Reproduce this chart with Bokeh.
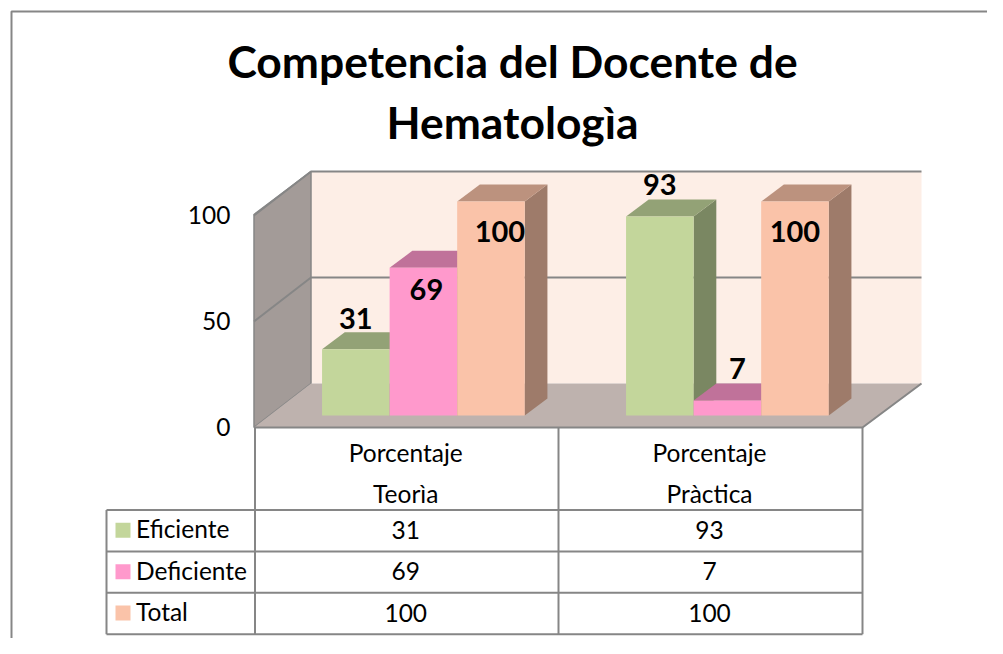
from bokeh.plotting import figure
from bokeh.models import Range1d
from bokeh.core.properties import value
from bokeh.embed import file_html
from bokeh.resources import INLINE

title_lines = ["Competencia del Docente de", "Hematologìa"]
categories = [["Porcentaje", "Teorìa"], ["Porcentaje", "Pràctica"]]
series = ["Eficiente", "Deficiente", "Total"]
eficiente = [31, 93]
deficiente = [69, 7]
total = [100, 100]
y_ticks = [0, 50, 100]

front = ["#C3D69B", "#FF99CC", "#FAC3A9"]
top_c = ["#93A276", "#C0729A", "#BC927E"]
side = ["#7A8762", "#A05F80", "#9E7B6A"]
GRAY = "#868686"
FONT = value("Lato")

W, H = 987, 638
BASE, SC = 415.0, 2.14


def Y(py):
    return (BASE - py) / SC


p = figure(width=W, height=H, output_backend="svg", toolbar_location=None,
           x_range=Range1d(0, W), y_range=Range1d(Y(H), Y(0)),
           min_border=0, outline_line_color=None, border_fill_color="white",
           background_fill_color="white")
p.axis.visible = False
p.grid.visible = False

# page border
p.line([11, 11, W], [Y(H), Y(11), Y(11)], line_color=GRAY, line_width=2)

# 3D box
p.patch([310.5, 921, 921, 310.5], [Y(171), Y(171), Y(383), Y(383)], fill_color="#FDEEE6", line_color=None)
p.patch([253.5, 310.5, 310.5, 253.5], [Y(214), Y(171), Y(383), Y(427)], fill_color="#A39B98", line_color=GRAY, line_width=1.5)
p.patch([253.5, 310.5, 921, 862], [Y(427), Y(383), Y(383), Y(427)], fill_color="#BEB2AE", line_color=None)
wall_scale = 2.12
for t in y_ticks[1:]:
    yb = 383 - t * wall_scale
    yf = 427 - t * wall_scale
    p.line([253.5, 310.5, 921], [Y(yf), Y(yb), Y(yb)], line_color=GRAY, line_width=2)
p.line([253.5, 862, 921], [Y(427), Y(427), Y(383)], line_color=GRAY, line_width=2)

# bars
LEFT = 254
CAT_W = 304.0
BW = CAT_W / 4.5
DX, DYV = 22.7, 17 / SC
xs, ys, cols = [], [], []
data = [eficiente, deficiente, total]
for g in range(2):
    for s, vals in enumerate(data):
        v = vals[g]
        x0 = LEFT + g * CAT_W + BW + s * BW
        x1 = x0 + BW
        xs += [[x1, x1 + DX, x1 + DX, x1], [x0, x0 + DX, x1 + DX, x1], [x0, x1, x1, x0]]
        ys += [[0, DYV, v + DYV, v], [v, v + DYV, v + DYV, v], [0, 0, v, v]]
        cols += [side[s], top_c[s], front[s]]
p.patches(xs, ys, fill_color=cols, line_color=None)

# bar labels
lab_dx = [[0, 3, 9], [0, 10, 0]]
lab_dy = [[31, -22, -30], [32, 32, -30]]
lx, ly, lt = [], [], []
for g in range(2):
    for s, vals in enumerate(data):
        lx.append(LEFT + g * CAT_W + BW * (s + 1.5) + lab_dx[g][s])
        ly.append(vals[g] + lab_dy[g][s] / SC)
        lt.append(str(vals[g]))
p.text(lx, ly, lt, text_font=FONT, text_font_style="bold", text_font_size="29px",
       text_align="center", text_baseline="middle", text_color="black")

# title
p.text([512, 512], [Y(60), Y(120.5)], title_lines, text_font=FONT, text_font_style="bold",
       text_font_size="44.4px", text_align="center", text_baseline="middle", text_color="black")

# axis tick labels
p.text([230] * 3, [Y(426 - t * wall_scale) for t in y_ticks], [str(t) for t in y_ticks],
       text_font=FONT, text_font_size="24.5px", text_align="right", text_baseline="middle", text_color="black")

# data table
rows = [427, 509.5, 551, 592.3, 633.7]
X_T = [106, 254.5, 558, 862]
for r in rows[1:]:
    p.line([X_T[0], X_T[3]], [Y(r), Y(r)], line_color=GRAY, line_width=2)
p.line([X_T[0], X_T[0]], [Y(rows[1]), Y(rows[4])], line_color=GRAY, line_width=2)
for x in X_T[1:]:
    p.line([x, x], [Y(rows[0]), Y(rows[4])], line_color=GRAY, line_width=2)

cat_x = [(X_T[1] + X_T[2]) / 2 - 1, (X_T[2] + X_T[3]) / 2 - 1]
for i, c in enumerate(categories):
    p.text([cat_x[i]] * 2, [Y(451.5), Y(492.5)], c, text_font=FONT, text_font_size="24.5px",
           text_align="center", text_baseline="middle", text_color="black")
for r, (name, vals) in enumerate(zip(series, data)):
    yc = (rows[r + 1] + rows[r + 2]) / 2
    p.quad(left=115, right=130, top=Y(yc - 8), bottom=Y(yc + 7), fill_color=front[r], line_color=None)
    p.text([135.5], [Y(yc - 2)], [name], text_font=FONT, text_font_size="24.5px", text_align="left",
           text_baseline="middle", text_color="black")
    p.text(cat_x, [Y(yc - 1)] * 2, [str(v) for v in vals], text_font=FONT, text_font_size="24.5px",
           text_align="center", text_baseline="middle", text_color="black")

open("out.html", "w").write(file_html(p, INLINE))
